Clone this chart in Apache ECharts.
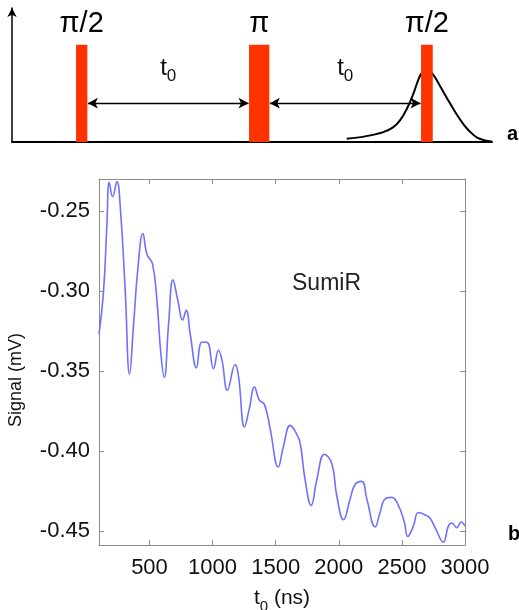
<!DOCTYPE html>
<html>
<head>
<meta charset="utf-8">
<script src="https://cdn.jsdelivr.net/npm/echarts@6/dist/echarts.min.js"></script>
<style>
  html, body { margin: 0; padding: 0; background: #fff; }
  #chart { width: 519px; height: 610px; }
</style>
</head>
<body>
<div id="chart"></div>
<script>
// panel a : pulse sequence (schematic units, x 0..480, y 0..1)
const pulseCenter = [69.7, 247.2, 414.9];
const pulseWidth = [11.3, 20.3, 11.7];
const pulseHeight = [0.725, 0.725, 0.725];
const pulseLabel = ['π/2', 'π', 'π/2'];
const echoX = [334.7, 353, 371.3, 381, 388, 395, 401.3, 406, 410, 415, 420.7, 428, 434.7, 443, 451.3, 458, 464.7, 472, 479.7];
const echoY = [0.025, 0.042, 0.074, 0.109, 0.161, 0.250, 0.359, 0.458, 0.518, 0.532, 0.507, 0.418, 0.331, 0.226, 0.134, 0.077, 0.035, 0.014, 0.004];

// panel b : spin echo signal
const t0 = [100, 136, 163, 181, 208, 242, 269, 308, 342, 374, 409, 448, 480, 524, 559, 591, 617, 651, 686, 725,
  762, 791, 823, 872, 915, 955, 1007, 1047, 1074, 1118, 1179, 1205, 1253, 1290, 1332, 1369, 1411, 1456, 1520, 1562,
  1615, 1668, 1694, 1733, 1781, 1826, 1886, 1945, 1984, 2037, 2090, 2129, 2182, 2222, 2288, 2327, 2367, 2420, 2472, 2520,
  2546, 2591, 2631, 2684, 2723, 2763, 2828, 2868, 2895, 2935, 2969, 3000];
const signal = [-0.327, -0.300, -0.258, -0.232, -0.241, -0.2315, -0.248, -0.300, -0.352, -0.321, -0.285, -0.264, -0.277, -0.283, -0.306, -0.340, -0.354, -0.321, -0.293, -0.306,
  -0.318, -0.312, -0.327, -0.348, -0.332, -0.332, -0.3485, -0.337, -0.343, -0.362, -0.346, -0.353, -0.385, -0.374, -0.360, -0.368, -0.371, -0.386, -0.410, -0.397,
  -0.384, -0.3896, -0.395, -0.418, -0.434, -0.418, -0.402, -0.408, -0.428, -0.443, -0.430, -0.421, -0.419, -0.430, -0.4475, -0.4385, -0.430, -0.429, -0.434, -0.4447,
  -0.4535, -0.447, -0.4385, -0.440, -0.442, -0.448, -0.457, -0.447, -0.445, -0.448, -0.4444, -0.447];
const xTicks = [500, 1000, 1500, 2000, 2500, 3000];
const yTicks = [-0.45, -0.40, -0.35, -0.30, -0.25];

var chart = echarts.init(document.getElementById('chart'));
var font = 'Liberation Sans, Arial, Helvetica, sans-serif';
var frame = '#8c8c8c';
var arrowY = 0.29;

var pulseData = pulseCenter.map((c, i) => [c, pulseWidth[i], pulseHeight[i]]);
var arrows = [];
for (let i = 0; i < pulseCenter.length - 1; i++) {
  arrows.push([
    { coord: [pulseCenter[i] + pulseWidth[i] / 2 + 0.5, arrowY] },
    { coord: [pulseCenter[i + 1] - pulseWidth[i + 1] / 2 - 0.5, arrowY] }
  ]);
}

var subRich = function (big, small) {
  return {
    t: { fontFamily: font, fontSize: big, color: '#111', lineHeight: big + 10, verticalAlign: 'middle' },
    s: { fontFamily: font, fontSize: small, color: '#111', lineHeight: big + 10, verticalAlign: 'bottom' }
  };
};

var mainAxisLine = { show: true, lineStyle: { color: frame, width: 1 } };
var mainTick = function (vals) {
  return { show: true, inside: true, length: 5, customValues: vals, lineStyle: { color: frame } };
};

var option = {
  animation: false,
  backgroundColor: '#fff',
  grid: [
    { left: 12, top: 8, width: 480, height: 134, outerBoundsMode: 'none' },
    { left: 99, top: 179, right: 54, bottom: 65, outerBoundsMode: 'none' }
  ],
  xAxis: [
    {
      gridIndex: 0, type: 'value', min: 0, max: 480,
      axisLine: { show: true, lineStyle: { color: '#000', width: 2 } },
      axisTick: { show: false }, axisLabel: { show: false }, splitLine: { show: false }
    },
    {
      gridIndex: 1, type: 'value', min: 100, max: 3000,
      axisLine: mainAxisLine,
      axisTick: mainTick(xTicks),
      axisLabel: { customValues: xTicks, fontFamily: font, fontSize: 22, color: '#111', margin: 12, formatter: v => String(v) },
      splitLine: { show: false },
      name: '{t|t}{s|0}{t| (ns)}',
      nameLocation: 'middle', nameGap: 38,
      nameTextStyle: { rich: subRich(21, 15) }
    },
    {
      gridIndex: 1, type: 'value', min: 100, max: 3000, position: 'top',
      axisLine: mainAxisLine,
      axisTick: mainTick(xTicks),
      axisLabel: { show: false }, splitLine: { show: false }
    }
  ],
  yAxis: [
    {
      gridIndex: 0, type: 'value', min: 0, max: 1,
      axisLine: { show: true, symbol: ['none', 'arrow'], symbolSize: [7, 9], lineStyle: { color: '#000', width: 1.5 } },
      axisTick: { show: false }, axisLabel: { show: false }, splitLine: { show: false }
    },
    {
      gridIndex: 1, type: 'value', min: -0.4588, max: -0.2299,
      axisLine: mainAxisLine,
      axisTick: mainTick(yTicks),
      axisLabel: {
        customValues: yTicks, fontFamily: font, fontSize: 22, color: '#111', margin: 9,
        formatter: v => v.toFixed(2)
      },
      splitLine: { show: false },
      name: 'Signal (mV)',
      nameLocation: 'middle', nameGap: 74,
      nameTextStyle: { fontFamily: font, fontSize: 18, color: '#111', padding: [0, 36, 0, 0] }
    },
    {
      gridIndex: 1, type: 'value', min: -0.4588, max: -0.2299, position: 'right',
      axisLine: mainAxisLine,
      axisTick: mainTick(yTicks),
      axisLabel: { show: false }, splitLine: { show: false }
    }
  ],
  series: [
    {
      name: 'echo', type: 'line', xAxisIndex: 0, yAxisIndex: 0,
      data: echoX.map((x, i) => [x, echoY[i]]),
      smooth: 0.4, symbol: 'none',
      lineStyle: { color: '#000', width: 2 },
      z: 2,
      markLine: {
        silent: true, symbol: ['arrow', 'arrow'], symbolSize: [8, 10],
        lineStyle: { color: '#000', width: 1.3, type: 'solid' },
        label: {
          show: true, position: 'middle', distance: 18,
          formatter: '{t|t}{s|0}',
          rich: subRich(24, 17)
        },
        data: arrows
      }
    },
    {
      name: 'pulses', type: 'custom', xAxisIndex: 0, yAxisIndex: 0,
      data: pulseData, z: 5,
      renderItem: function (params, api) {
        var c = api.value(0), w = api.value(1), h = api.value(2);
        var p0 = api.coord([c - w / 2, h]);
        var p1 = api.coord([c + w / 2, 0]);
        var ly = api.coord([c, 0.88])[1];
        return {
          type: 'group',
          children: [
            { type: 'rect', shape: { x: p0[0], y: p0[1], width: p1[0] - p0[0], height: p1[1] - p0[1] }, style: { fill: '#ff3300' } },
            { type: 'text', x: (p0[0] + p1[0]) / 2, y: ly, style: { text: pulseLabel[params.dataIndex], fontFamily: font, fontSize: 29, fill: '#000', align: 'center', verticalAlign: 'middle' } }
          ]
        };
      }
    },
    {
      name: 'SumiR', type: 'line', xAxisIndex: 1, yAxisIndex: 1,
      data: t0.map((x, i) => [x, signal[i]]),
      smooth: 0.45, symbol: 'none', clip: true,
      lineStyle: { color: '#7070ff', width: 1.6 }
    }
  ],
  graphic: [
    { type: 'text', left: 292, top: 272, style: { text: 'SumiR', fontFamily: font, fontSize: 23, fill: '#222' } },
    { type: 'text', left: 507, top: 124, style: { text: 'a', fontFamily: font, fontSize: 20, fontWeight: 'bold', fill: '#000' } },
    { type: 'text', left: 508, top: 524, style: { text: 'b', fontFamily: font, fontSize: 20, fontWeight: 'bold', fill: '#000' } }
  ]
};

chart.setOption(option);
</script>
</body>
</html>
